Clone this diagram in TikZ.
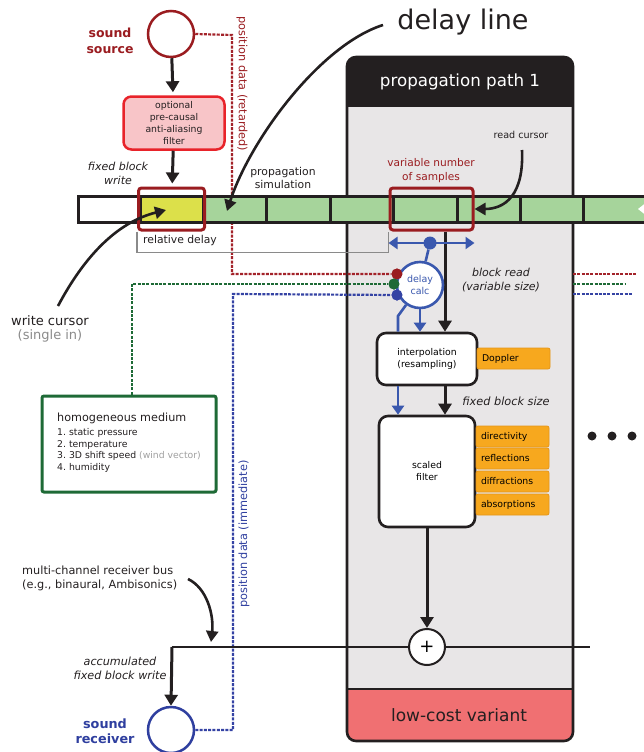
\documentclass[tikz,border=0pt]{standalone}
\usepackage{fontspec}
\setmainfont{DejaVu Sans}
\usetikzlibrary{arrows.meta,calc}
\definecolor{ink}{HTML}{231F20}
\definecolor{darkred}{HTML}{9A1C20}
\definecolor{rdashc}{HTML}{A3232A}
\definecolor{filtred}{HTML}{E8232A}
\definecolor{filtpink}{HTML}{F8C5C8}
\definecolor{yellowcell}{HTML}{DCE04A}
\definecolor{greencell}{HTML}{A6D49B}
\definecolor{panelgray}{HTML}{E8E6E7}
\definecolor{lowred}{HTML}{F07072}
\definecolor{orangetag}{HTML}{F7A81E}
\definecolor{orangeedge}{HTML}{E5951A}
\definecolor{bluetxt}{HTML}{2F3F9F}
\definecolor{bluearr}{HTML}{3A58AE}
\definecolor{bdashc}{HTML}{3543A4}
\definecolor{greenc}{HTML}{1E6A36}
\definecolor{grayline}{HTML}{8A8A8A}
\definecolor{lightgraytxt}{HTML}{A0A0A0}
\newcommand\fsz[2]{\fontsize{#1}{#2}\selectfont}
\tikzset{
  arr/.style={draw=ink, line width=3, -{Triangle[length=11pt,width=13pt]}},
  barr/.style={draw=bluearr, line width=2.6, -{Triangle[length=9pt,width=12pt]}},
  bline/.style={draw=bluearr, line width=2.6},
  cell/.style={draw=ink, line width=3, minimum height=26, inner sep=0, outer sep=0},
  selbox/.style={draw=darkred, line width=3, rounded corners=3, minimum height=42, inner sep=0},
  tag/.style={fill=orangetag, draw=orangeedge, line width=0.8, rounded corners=2, minimum height=21, minimum width=73, text width=63, align=left, inner xsep=5, inner ysep=0, font=\fsz{9.3}{11}},
  procbox/.style={draw=ink, fill=white, line width=2.6, rounded corners=9, inner sep=0, align=center, font=\fsz{9.3}{12}},
  rdash/.style={draw=rdashc, line width=2.2, dash pattern=on 3pt off 1.3pt},
  gdash/.style={draw=greenc, line width=2.2, dash pattern=on 3pt off 1.3pt},
  bdash/.style={draw=bdashc, line width=2.2, dash pattern=on 3pt off 1.3pt},
  lbl/.style={text=ink, font=\fsz{10.8}{13}, align=center, inner sep=0},
  ilbl/.style={text=ink, font=\fsz{11}{14}\itshape, align=center, inner sep=0},
  dotc/.style={circle, inner sep=0, minimum size=11},
}
\begin{document}
\begin{tikzpicture}[x=1pt,y=-1pt]
\useasboundingbox (0,0) rectangle (644,752);

% ---------- propagation path panel ----------
\begin{scope}
  \clip[rounded corners=9] (347,57) rectangle (573,741);
  \fill[panelgray] (347,57) rectangle (573,741);
  \fill[ink] (347,57) rectangle (573,107);
  \fill[lowred] (347,689) rectangle (573,741);
\end{scope}
\draw[ink, line width=2.6, rounded corners=9] (347,57) rectangle (573,741);
\draw[ink, line width=2.6] (347,689) -- (573,689);
\node[text=white, font=\fsz{16.7}{20}] (hdr) at (460,82) {propagation path 1};
\node[text=ink, font=\fsz{17}{20}] (lowc) at (459,715) {low-cost variant};

% ---------- source ----------
\node[circle, draw=darkred, line width=2.5, fill=white, minimum size=46, inner sep=0] (src) at (171,34) {};
\node[text=darkred, font=\fsz{12.5}{16.5}\bfseries, align=center] (srclbl) at (110,41) {sound\\source};
\node[draw=filtred, fill=filtpink, line width=2.5, rounded corners=8, minimum width=101, minimum height=53, inner sep=0, align=center, text=ink, font=\fsz{9.3}{11.7}] (filt) at (174,123) {optional\\pre-causal\\anti-aliasing\\filter};
\node[ilbl] (fbw) at (118,173) {fixed block\\write};

% ---------- dashed position lines ----------
\coordinate (rc1) at (232,35);
\coordinate (rc2) at (232,274);
\coordinate (gc) at (132,284);
\coordinate (bc1) at (233,730);
\coordinate (bc2) at (233,294);
\node[dotc, fill=darkred] (rdot) at (397,274) {};
\node[dotc, fill=greenc] (gdot) at (394,284) {};
\node[dotc, fill=bdashc] (bdot2) at (397,295) {};

\draw[rdash] (src.east) -- (rc1) -- (rc2) -- (rdot);

% homogeneous medium
\node[draw=greenc, line width=3, rounded corners=2, minimum width=174, minimum height=96, fill=white] (hm) at (129,444) {};
\node[anchor=base west, text=ink, font=\fsz{11.2}{13}, inner sep=0] (hmt) at (57,421) {homogeneous medium};
\node[anchor=base west, text=ink, font=\fsz{9.3}{11}, inner sep=0] (hm1) at (57,435.5) {1.\ static pressure};
\node[anchor=base west, text=ink, font=\fsz{9.3}{11}, inner sep=0] (hm2) at (57,447) {2.\ temperature};
\node[anchor=base west, text=ink, font=\fsz{9.3}{11}, inner sep=0] (hm3) at (57,458.5) {3.\ 3D shift speed \textcolor{lightgraytxt}{(wind vector)}};
\node[anchor=base west, text=ink, font=\fsz{9.3}{11}, inner sep=0] (hm4) at (57,470) {4.\ humidity};
\draw[gdash] (hm.north -| gc) -- (gc) -- (gdot);

% receiver
\node[circle, draw=bluetxt, line width=2.5, fill=white, minimum size=46, inner sep=0] (rcv) at (171,730) {};
\node[text=bluetxt, font=\fsz{12.8}{15.5}\bfseries, align=center] (rcvlbl) at (105,731) {sound\\receiver};
\draw[bdash] (rcv.east) -- (bc1) -- (bc2) -- (bdot2);

\node[rotate=-90, text=darkred, font=\fsz{11.3}{13}] (pdr) at (242,84) {position data (retarded)};
\node[rotate=90, text=bluetxt, font=\fsz{11.3}{13}] (pdi) at (244,534) {position data (immediate)};

% right-side continuations
\coordinate (re1) at (573,274); \coordinate (re2) at (636,274);
\coordinate (ge1) at (573,284); \coordinate (ge2) at (625,284);
\coordinate (be1) at (573,294); \coordinate (be2) at (632,294);
\draw[rdash] (re1) -- (re2);
\draw[gdash] (ge1) -- (ge2);
\draw[bdash] (be1) -- (be2);

% ---------- delay line ----------
\node[cell, fill=white, minimum width=62] (c0) at (109,209) {};
\node[cell, fill=yellowcell, minimum width=63] (c1) at (171.5,209) {};
\node[cell, fill=greencell, minimum width=63] (c2) at (234.5,209) {};
\node[cell, fill=greencell, minimum width=64] (c3) at (298,209) {};
\node[cell, fill=greencell, minimum width=63] (c4) at (361.5,209) {};
\node[cell, fill=greencell, minimum width=64] (c5) at (425,209) {};
\node[cell, fill=greencell, minimum width=63] (c6) at (488.5,209) {};
\node[cell, fill=greencell, minimum width=63] (c7) at (551.5,209) {};
\node[cell, fill=greencell, minimum width=70] (c8) at (618,209) {};
\fill[white] (638,209) -- (645,203.5) -- (645,214.5) -- cycle;

\node[selbox, minimum width=66] (wbox) at (171.5,209) {};
\node[selbox, minimum width=83] (rbox) at (431.5,209) {};
\draw[grayline, line width=1.5] (wbox.south west) -- ++(0,21) -| (rbox.south west);
\node[anchor=west, text=ink, font=\fsz{10.8}{13}, inner sep=0] (reld) at (143,241) {relative delay};

\draw[arr, shorten >=3pt] (src) -- (filt);
\draw[arr, shorten >=3pt] (filt) -- (wbox);

% labels on delay line
\node[font=\fsz{27}{30}, text=ink] (dl) at (463,22) {delay line};
\coordinate (dls) at (383,25);
\coordinate (dle) at (227,211);
\draw[ink, line width=2.6, -{Triangle[length=11pt,width=12pt]}] (dls) .. controls (320,45) and (250,140) .. (dle);
\node[lbl] (psim) at (283,178) {propagation\\simulation};

\node[text=ink, font=\fsz{13}{13.5}, align=center] (wcl) at (50,329) {write cursor\\\textcolor{grayline}{(single in)}};
\coordinate (wcs) at (58,306);
\coordinate (wce) at (166,210);
\draw[ink, line width=2.6, -{Triangle[length=11pt,width=12pt]}] (wcs) .. controls (85,255) and (118,222) .. (wce);

\node[text=darkred, font=\fsz{10.6}{14}, align=center] (vns) at (431,171) {variable number\\of samples};
\node[text=ink, font=\fsz{9.6}{11}] (rcl) at (521,135) {read cursor};
\coordinate (rcs) at (522,150);
\draw[ink, line width=2.6, -{Triangle[length=11pt,width=12pt]}] (rcs) .. controls (524,195) and (505,209) .. (rbox.east);

% ---------- processing chain ----------
\node[procbox, minimum width=100, minimum height=52] (interp) at (427,359) {interpolation\\(resampling)};
\node[tag] (dop) at (513.5,358.5) {Doppler};
\node[procbox, minimum width=96, minimum height=111] (sfilt) at (427,471.5) {scaled\\filter};
\node[tag] (t1) at (512.5,436.5) {directivity};
\node[tag] (t2) at (512.5,458.5) {reflections};
\node[tag] (t3) at (512.5,481.5) {diffractions};
\node[tag] (t4) at (512.5,504.5) {absorptions};

\coordinate (bx) at (445,0);
\draw[arr] (rbox.south -| bx) -- (interp.north -| bx);
\draw[arr] (interp.south -| bx) -- (sfilt.north -| bx);

\node[ilbl] (brd) at (501,280) {block read\\(variable size)};
\node[ilbl, font=\fsz{11.3}{14}\itshape] (fbs) at (506,401) {fixed block size};

% delay calc
\node[circle, draw=bluearr, line width=2.6, fill=white, minimum size=46, inner sep=0, align=center, text=bluearr, font=\fsz{9.5}{12}] (dcalc) at (420,285) {delay\\calc};
\node[dotc, fill=darkred] at (rdot) {};
\node[dotc, fill=greenc] at (gdot) {};
\node[dotc, fill=bdashc] at (bdot2) {};
\node[dotc, fill=bluearr, minimum size=13] (bdot) at (430,243) {};
\draw[bline, {Triangle[length=9pt,width=12pt]}-{Triangle[length=9pt,width=12pt]}] (rbox.south west |- bdot) -- (rbox.south east |- bdot);
\draw[bline] (bdot) -- (dcalc);
\draw[barr] (dcalc.south) -- (interp.north -| dcalc.south);
\coordinate (blx) at (398,316);
\draw[bline] (dcalc.235) -- (blx) -- (interp.north -| blx);
\draw[barr] (interp.south -| blx) -- (sfilt.north -| blx);

% dots
\node[circle, fill=ink, minimum size=9, inner sep=0] (d1) at (592,436) {};
\node[circle, fill=ink, minimum size=9, inner sep=0] (d2) at (612,436) {};
\node[circle, fill=ink, minimum size=9, inner sep=0] (d3) at (632,436) {};

% ---------- receiver bus ----------
\node[circle, draw=ink, line width=2, fill=white, minimum size=36, inner sep=0, font=\fsz{18}{18}] (plus) at (427,647) {+};
\coordinate (busl) at (172,647);
\coordinate (busr) at (590,647);
\draw[ink, line width=2] (plus.west) -- (busl);
\draw[ink, line width=2] (plus.east) -- (busr);
\draw[arr] (busl) -- (rcv.north);
\draw[arr] (sfilt.south) -- (plus.north);

\node[text=ink, font=\fsz{11.3}{14}, align=left, anchor=west, inner sep=0] (mcb) at (22,578) {multi-channel receiver bus\\(e.g., binaural, Ambisonics)};
\coordinate (mcs) at (188,579);
\coordinate (mce) at (211,642);
\draw[ink, line width=2.6, -{Triangle[length=11pt,width=12pt]}] (mcs) .. controls (207,588) and (214,615) .. (mce);
\node[ilbl, font=\fsz{11.2}{14}\itshape] (acc) at (120,668) {accumulated\\fixed block write};

\end{tikzpicture}
\end{document}
